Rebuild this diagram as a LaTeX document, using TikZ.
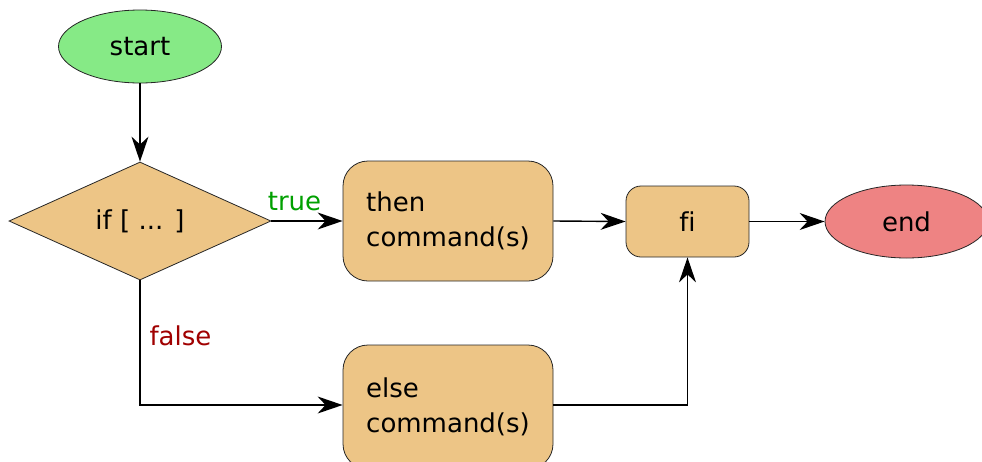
\documentclass[tikz,border=0pt]{standalone}
\usepackage{fontspec}
\setmainfont[Ligatures=NoCommon]{DejaVu Sans}
\usetikzlibrary{shapes.geometric,arrows.meta}
\definecolor{startgreen}{HTML}{86EA86}
\definecolor{boxtan}{HTML}{EDC586}
\definecolor{endred}{HTML}{EE8383}
\definecolor{truegreen}{HTML}{00A000}
\definecolor{falsered}{HTML}{A00000}
\begin{document}
\begin{tikzpicture}[x=1pt,y=-1pt,
  every node/.style={font=\fontsize{26}{35}\selectfont, inner sep=0pt},
  shapeborder/.style={draw=black!85, line width=0.8pt},
  terminal/.style={shapeborder, ellipse, minimum width=163pt, minimum height=73pt},
  decision/.style={shapeborder, diamond, fill=boxtan, aspect=2.22, minimum width=262pt, minimum height=118pt},
  cmdbox/.style={shapeborder, fill=boxtan, rounded corners=25pt, minimum width=210pt, minimum height=120pt, align=left},
  joinbox/.style={shapeborder, fill=boxtan, rounded corners=15pt, minimum width=123pt, minimum height=71pt},
  flow/.style={line width=1.4pt, -{Stealth[length=25pt, width=17pt, inset=8pt]}}
]
\useasboundingbox (0,0) rectangle (982,461);

\node[terminal, fill=startgreen] (start) at (140,46.5) {start};
\node[decision] (cond) at (140,221) {if [ ... ]};
\node[cmdbox] (then) at (448,221) {then\\command(s)};
\node[cmdbox, minimum height=124pt] (else) at (448,407) {else\\command(s)};
\node[joinbox] (fi) at (687.5,221.5) {fi};
\node[terminal, fill=endred] (end) at (906.5,221.5) {end};

\coordinate (bend) at (140,405);
\coordinate (merge) at (fi.south |- bend);

\draw[flow] (start) -- (cond);
\draw[flow] (cond.east) -- (then.west);
\draw[flow] (cond.south) -- (bend) -- (bend -| else.west);
\draw[flow] (then.east) -- (fi.west);
\draw[line width=1.4pt] (bend -| else.east) -- (merge);
\draw[flow] (merge) -- (fi.south);
\draw[flow] (fi.east) -- (end.west);

\node[text=truegreen] (truelbl) at (294.5,202) {true};
\node[text=falsered] (falselbl) at (180.5,336) {false};
\end{tikzpicture}
\end{document}
